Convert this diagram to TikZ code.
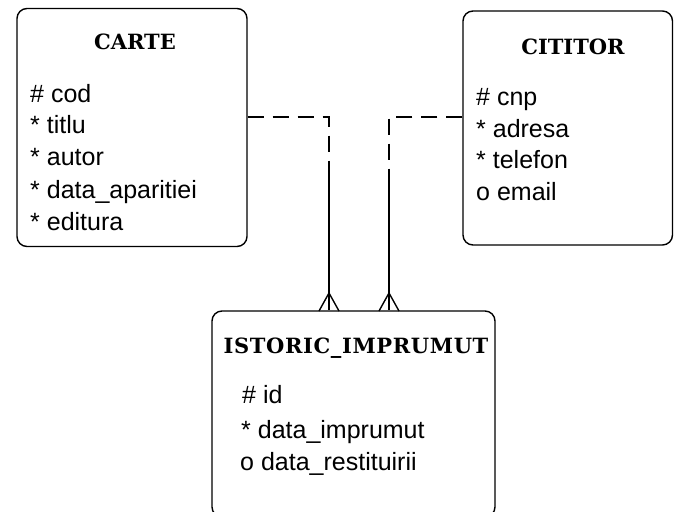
\documentclass[tikz,border=0pt]{standalone}
\usepackage{fontspec}
\setmainfont{Liberation Sans}
\newfontfamily\titlefont{DejaVu Serif}
\begin{document}
\begin{tikzpicture}[x=1pt,y=-1pt,
  ent/.style={draw, line width=1.4pt, rounded corners=10pt, inner sep=0pt, rectangle},
  attr/.style={anchor=base west, inner sep=0pt, font=\fontsize{25}{25}\selectfont},
  ttl/.style={anchor=base, inner sep=0pt, font=\titlefont\bfseries\fontsize{21}{21}\selectfont},
  rel/.style={line width=1.4pt},
  opt/.style={rel, dash pattern=on 16pt off 9pt}]
\useasboundingbox (0,0) rectangle (674,511);
\clip (0,0) rectangle (674,511);

% entities
\node[ent, minimum width=230pt, minimum height=238pt] (carte) at (132,127.5) {};
\node[ent, minimum width=209.5pt, minimum height=234pt] (cititor) at (567.75,128) {};
\node[ent, minimum width=283pt, minimum height=206pt] (istoric) at (353.5,414) {};

% titles
\node[ttl] (tcarte) at (135,50) {CARTE};
\node[ttl] (tcititor) at (573,55) {CITITOR};
\node[ttl] (tistoric) at (356,353) {\addfontfeature{LetterSpace=3}ISTORIC\_IMPRUMUT};

% attributes CARTE
\node[attr] (a1) at (30,102) {\# cod};
\node[attr] (a2) at (30,133) {* titlu};
\node[attr] (a3) at (30,165) {* autor};
\node[attr] (a4) at (30,198) {* data\_aparitiei};
\node[attr] (a5) at (30,230) {* editura};

% attributes CITITOR
\node[attr] (b1) at (476,105) {\# cnp};
\node[attr] (b2) at (476,137) {* adresa};
\node[attr] (b3) at (476,168) {* telefon};
\node[attr] (b4) at (476,200) {o email};

% attributes ISTORIC_IMPRUMUT
\node[attr] (c1) at (242,403) {\# id};
\node[attr] (c2) at (241,438) {* data\_imprumut};
\node[attr] (c3) at (240,470) {o data\_restituirii};

% relationship CARTE - ISTORIC
\coordinate (k1) at (329,117);
\coordinate (m1) at (329,175);
\coordinate (f1) at (329,293);
\coordinate (f1l) at (319,311);
\coordinate (f1r) at (339,311);
\draw[opt] (carte.east |- k1) -- (k1) -- (m1);
\draw[rel] (m1) -- (m1 |- istoric.north);
\draw[rel] (f1l) -- (f1) -- (f1r);

% relationship CITITOR - ISTORIC
\coordinate (k2) at (389,117);
\coordinate (m2) at (389,172);
\coordinate (f2) at (389,293);
\coordinate (f2l) at (379,311);
\coordinate (f2r) at (399,311);
\draw[opt] (cititor.west |- k2) -- (k2) -- (m2);
\draw[rel] (m2) -- (m2 |- istoric.north);
\draw[rel] (f2l) -- (f2) -- (f2r);
\end{tikzpicture}
\end{document}
